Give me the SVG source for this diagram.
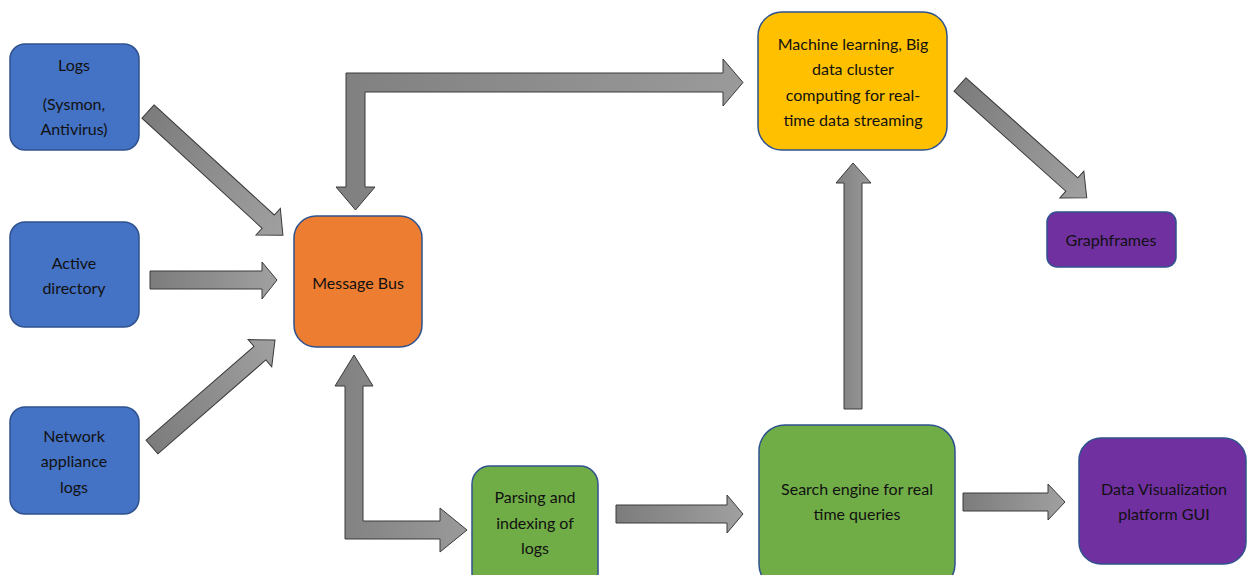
<svg xmlns="http://www.w3.org/2000/svg" width="1247" height="575" viewBox="0 0 1247 575">
<defs>
<linearGradient id="g" x1="0" y1="0" x2="1" y2="0">
<stop offset="0" stop-color="#7c7c7c"/>
<stop offset="1" stop-color="#a0a0a0"/>
</linearGradient>
<linearGradient id="gv" x1="0" y1="0" x2="1" y2="0">
<stop offset="0" stop-color="#808080"/>
<stop offset="1" stop-color="#9a9a9a"/>
</linearGradient>
<style>
.n{stroke:#2F528F;stroke-width:1.5}
.blue{fill:#4472C4}
.orange{fill:#ED7D31}
.yellow{fill:#FFC000}
.green{fill:#70AD47}
.purple{fill:#7030A0}
.t{font-family:Lato,"Liberation Sans",sans-serif;font-size:16px;fill:#111;text-anchor:middle}
.a{fill:url(#g);stroke:#3a3a3a;stroke-width:1}
.av{fill:url(#gv);stroke:#3a3a3a;stroke-width:1}
</style>
</defs>
<rect width="1247" height="575" fill="#fff"/>
<g id="connectors">
<path class="a" transform="translate(148,111.5) rotate(42.5)" d="M0,-9 L163,-9 L163,-18 L183,0 L163,18 L163,9 L0,9 Z"/>
<path class="a" d="M150,271 L262,271 L262,262 L277,280 L262,299 L262,289 L150,289 Z"/>
<path class="a" transform="translate(152,447) rotate(-41)" d="M0,-9 L143,-9 L143,-18 L163,0 L143,18 L143,9 L0,9 Z"/>
<path class="av" d="M346,73 L723,73 L723,59 L743,82.5 L723,106 L723,92 L365,92 L365,187 L375,187 L355.5,210 L336,187 L346,187 Z"/>
<path class="av" d="M354,355 L373,386 L363,386 L363,521 L440,521 L440,508 L467,530 L440,552 L440,539 L345,539 L345,386 L335,386 Z"/>
<path class="a" d="M616,505 L727,505 L727,495 L743,514 L727,533 L727,523 L616,523 Z"/>
<path class="av" d="M853,163 L871,183 L862,183 L862,409 L844,409 L844,183 L836,183 Z"/>
<path class="a" transform="translate(960,84.5) rotate(41.8)" d="M0,-9 L150,-9 L150,-18 L170,0 L150,18 L150,9 L0,9 Z"/>
<path class="a" d="M963,493 L1048,493 L1048,484 L1065,502 L1048,520 L1048,511 L963,511 Z"/>
</g>
<g id="logs">
<rect class="n blue" x="10" y="44" width="129" height="106" rx="15"/>
<text class="t" x="74" y="71">Logs</text>
<text class="t" x="74" y="110">(Sysmon,</text>
<text class="t" x="74" y="135">Antivirus)</text>
</g>
<g id="active-directory">
<rect class="n blue" x="10" y="222" width="129" height="105" rx="15"/>
<text class="t" x="74" y="269">Active</text>
<text class="t" x="74" y="294">directory</text>
</g>
<g id="network-logs">
<rect class="n blue" x="10" y="407" width="129" height="107" rx="15"/>
<text class="t" x="74" y="442">Network</text>
<text class="t" x="74" y="467">appliance</text>
<text class="t" x="74" y="493">logs</text>
</g>
<g id="message-bus">
<rect class="n orange" x="294" y="216" width="128" height="131" rx="22"/>
<text class="t" x="358" y="289">Message Bus</text>
</g>
<g id="machine-learning">
<rect class="n yellow" x="758" y="12" width="189" height="138" rx="24"/>
<text class="t" x="853" y="50">Machine learning, Big</text>
<text class="t" x="853" y="75">data cluster</text>
<text class="t" x="853" y="101">computing for real-</text>
<text class="t" x="853" y="126">time data streaming</text>
</g>
<g id="graphframes">
<rect class="n purple" x="1047" y="212" width="129" height="55" rx="10"/>
<text class="t" x="1111" y="246">Graphframes</text>
</g>
<g id="parsing">
<rect class="n green" x="472" y="466" width="126" height="125" rx="18"/>
<text class="t" x="535" y="503">Parsing and</text>
<text class="t" x="535" y="529">indexing of</text>
<text class="t" x="535" y="554">logs</text>
</g>
<g id="search-engine">
<rect class="n green" x="759" y="425" width="196" height="165" rx="26"/>
<text class="t" x="857" y="495">Search engine for real</text>
<text class="t" x="857" y="520">time queries</text>
</g>
<g id="data-vis">
<rect class="n purple" x="1079" y="438" width="167" height="126" rx="22"/>
<text class="t" x="1164" y="495">Data Visualization</text>
<text class="t" x="1164" y="520">platform GUI</text>
</g>
</svg>
